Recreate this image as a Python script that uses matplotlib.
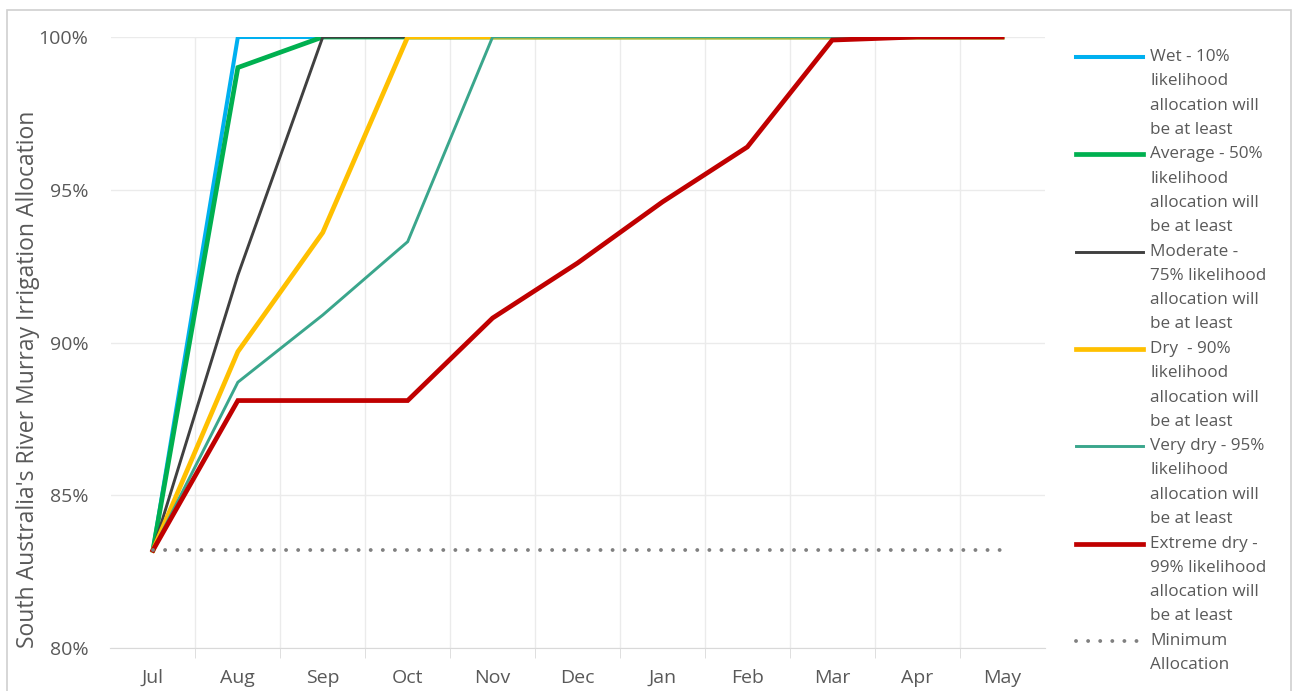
import matplotlib
matplotlib.use("Agg")
import matplotlib.pyplot as plt
from matplotlib.lines import Line2D
from matplotlib.patches import Rectangle
from matplotlib.ticker import FixedLocator, FuncFormatter

plt.rcParams['font.family'] = ['Open Sans', 'DejaVu Sans']

months = ["Jul", "Aug", "Sep", "Oct", "Nov", "Dec", "Jan", "Feb", "Mar", "Apr", "May"]

# allocation (%) per month for each scenario
wet = [83.2, 100, 100, 100, 100, 100, 100, 100, 100, 100, 100]
average = [83.2, 99.0, 100, 100, 100, 100, 100, 100, 100, 100, 100]
moderate = [83.2, 92.2, 100, 100, 100, 100, 100, 100, 100, 100, 100]
dry = [83.2, 89.7, 93.6, 100, 100, 100, 100, 100, 100, 100, 100]
very_dry = [83.2, 88.7, 90.9, 93.3, 100, 100, 100, 100, 100, 100, 100]
extreme_dry = [83.2, 88.1, 88.1, 88.1, 90.8, 92.6, 94.6, 96.4, 99.9, 100, 100]
minimum = [83.2] * 11

labels = [
    "Wet - 10%\nlikelihood\nallocation will\nbe at least",
    "Average - 50%\nlikelihood\nallocation will\nbe at least",
    "Moderate -\n75% likelihood\nallocation will\nbe at least",
    "Dry  - 90%\nlikelihood\nallocation will\nbe at least",
    "Very dry - 95%\nlikelihood\nallocation will\nbe at least",
    "Extreme dry -\n99% likelihood\nallocation will\nbe at least",
    "Minimum\nAllocation",
]
series = [wet, average, moderate, dry, very_dry, extreme_dry]
colors = ["#00B0F0", "#00B050", "#404040", "#FFC000", "#3AA68C", "#C00000"]
widths = [2.9, 3.4, 2.1, 3.4, 2.1, 3.4]
dots = (0, (0.01, 3.1))

W, H = 1297, 691
fig = plt.figure(figsize=(W / 100, H / 100), dpi=100)
ax = fig.add_axes([110.5 / W, 1 - 648 / H, 934 / W, 611 / H])

x = list(range(len(months)))
for s, c, lw in zip(series, colors, widths):
    ax.plot(x, s, color=c, lw=lw, solid_joinstyle='miter', zorder=3)
ax.plot(x, minimum, color="#808080", lw=2.8, linestyle=dots,
        dash_capstyle='round', zorder=3)

ax.set_xlim(-0.5, len(months) - 0.5)
ax.set_ylim(80, 100)
ax.set_yticks([80, 85, 90, 95, 100])
ax.yaxis.set_major_formatter(FuncFormatter(lambda v, p: f"{v:.0f}%"))
ax.set_xticks(x)
ax.set_xticklabels(months)
ax.xaxis.set_minor_locator(FixedLocator([i + 0.5 for i in range(len(months) - 1)]))

ax.grid(axis='y', color="#EBEBEB", lw=1)
ax.grid(axis='x', which='minor', color="#EBEBEB", lw=1)
ax.set_axisbelow(True)
for sp in ['top', 'right', 'left']:
    ax.spines[sp].set_visible(False)
ax.spines['bottom'].set_color("#D9D9D9")
ax.tick_params(axis='y', length=0, pad=16, labelsize=14, labelcolor="#595959")
ax.tick_params(axis='x', which='major', length=0, pad=15, labelsize=14, labelcolor="#595959")
ax.tick_params(axis='x', which='minor', length=7, color="#D9D9D9")
ax.set_ylabel("South Australia's River Murray Irrigation Allocation",
              fontsize=16.5, color="#595959")
ax.yaxis.set_label_coords((40 - 110.5) / 934, (648 - 379) / 611)

# chart border
fig.patches.append(Rectangle((7 / W, -0.1), 1284 / W, 1.1 - 10 / H, transform=fig.transFigure,
                             fill=False, edgecolor="#D0D0D0", lw=1.2))

# legend, one entry per series with the line on the first text row
entry_top = 57
entry_step = 97.3
line_h = 24.3
leg_styles = [(c, lw, '-') for c, lw in zip(colors, widths)] + [("#808080", 2.8, dots)]
for i, (lab, (c, lw, ls)) in enumerate(zip(labels, leg_styles)):
    y0 = entry_top + i * entry_step
    ln = Line2D([1076 / W, 1143 / W], [1 - y0 / H, 1 - y0 / H], transform=fig.transFigure,
                color=c, lw=lw, linestyle=ls, dash_capstyle='round')
    fig.lines.append(ln)
    for k, row in enumerate(lab.split("\n")):
        fig.text(1150 / W, 1 - (y0 + k * line_h) / H, row, fontsize=12.3,
                 color="#595959", va='center', ha='left')

fig.savefig("out.png", dpi=100)
